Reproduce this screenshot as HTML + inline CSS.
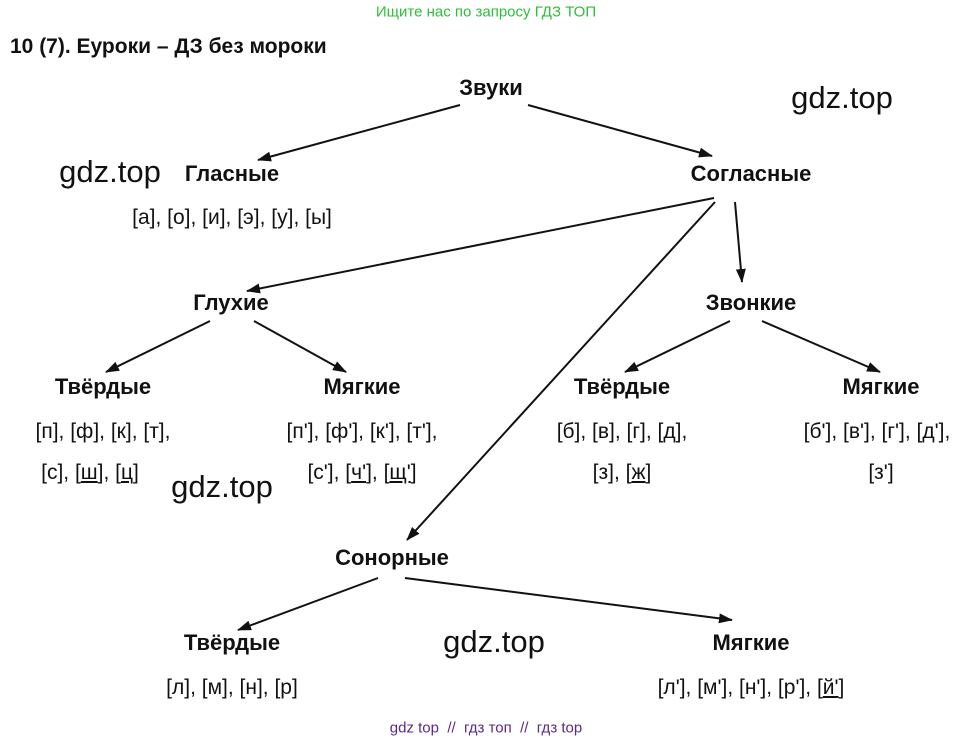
<!DOCTYPE html>
<html><head><meta charset="utf-8"><style>
body{margin:0;width:975px;height:743px;background:#fff;position:relative;overflow:hidden;font-family:"Liberation Sans",Arial,sans-serif;color:#111}
.t{position:absolute;white-space:nowrap;transform:translate(-50%,-50%)}
.b{font-weight:bold;font-size:22px}
.r{font-size:21px}
.w{font-size:31px}
u{text-decoration:underline}
</style></head><body>
<svg width="975" height="743" style="position:absolute;left:0;top:0">
<defs><marker id="a" markerWidth="14" markerHeight="10" refX="13" refY="5" orient="auto" markerUnits="userSpaceOnUse" viewBox="0 0 14 10"><path d="M0,0 L14,5 L0,10z" fill="#111"/></marker></defs>
<g stroke="#111" stroke-width="2" fill="none" marker-end="url(#a)">
<line x1="460" y1="105" x2="258" y2="160"/>
<line x1="528" y1="105" x2="712" y2="156"/>
<line x1="714" y1="198" x2="247" y2="291"/>
<line x1="715" y1="202" x2="407" y2="540"/>
<line x1="735" y1="202" x2="742" y2="282"/>
<line x1="210" y1="321" x2="106" y2="372"/>
<line x1="254" y1="321" x2="346" y2="372"/>
<line x1="730" y1="321" x2="625" y2="372"/>
<line x1="762" y1="321" x2="880" y2="372"/>
<line x1="378" y1="578" x2="238" y2="630"/>
<line x1="405" y1="578" x2="732" y2="620"/>
</g></svg>
<div class="t" style="left:486px;top:12px;font-size:15px;color:#2dbf3a">Ищите нас по запросу ГДЗ ТОП</div>
<div style="position:absolute;left:10px;top:35px;font-weight:bold;font-size:21px">10 (7). Еуроки – ДЗ без мороки</div>
<div class="t b" style="left:491px;top:88px">Звуки</div>
<div class="t w" style="left:842px;top:98px">gdz.top</div>
<div class="t w" style="left:110px;top:172px">gdz.top</div>
<div class="t b" style="left:232px;top:174px">Гласные</div>
<div class="t b" style="left:751px;top:174px">Согласные</div>
<div class="t r" style="left:232px;top:218px">[а], [о], [и], [э], [у], [ы]</div>
<div class="t b" style="left:231px;top:303px">Глухие</div>
<div class="t b" style="left:751px;top:303px">Звонкие</div>
<div class="t b" style="left:103px;top:387px">Твёрдые</div>
<div class="t b" style="left:362px;top:387px">Мягкие</div>
<div class="t b" style="left:622px;top:387px">Твёрдые</div>
<div class="t b" style="left:881px;top:387px">Мягкие</div>
<div class="t r" style="left:103px;top:432px">[п], [ф], [к], [т],</div>
<div class="t r" style="left:362px;top:432px">[п'], [ф'], [к'], [т'],</div>
<div class="t r" style="left:622px;top:432px">[б], [в], [г], [д],</div>
<div class="t r" style="left:877px;top:432px">[б'], [в'], [г'], [д'],</div>
<div class="t r" style="left:90px;top:473px">[с], [<u>ш</u>], [<u>ц</u>]</div>
<div class="t r" style="left:362px;top:473px">[с'], [<u>ч'</u>], [<u>щ'</u>]</div>
<div class="t r" style="left:622px;top:473px">[з], [<u>ж</u>]</div>
<div class="t r" style="left:881px;top:473px">[з']</div>
<div class="t w" style="left:222px;top:487px">gdz.top</div>
<div class="t b" style="left:392px;top:558px">Сонорные</div>
<div class="t b" style="left:232px;top:643px">Твёрдые</div>
<div class="t w" style="left:494px;top:642px">gdz.top</div>
<div class="t b" style="left:751px;top:643px">Мягкие</div>
<div class="t r" style="left:232px;top:688px">[л], [м], [н], [р]</div>
<div class="t r" style="left:751px;top:688px">[л'], [м'], [н'], [р'], [<u>й'</u>]</div>
<div class="t" style="left:486px;top:728px;font-size:15px;color:#5a2a8a">gdz top &nbsp;// &nbsp;гдз топ &nbsp;// &nbsp;гдз top</div>
</body></html>
